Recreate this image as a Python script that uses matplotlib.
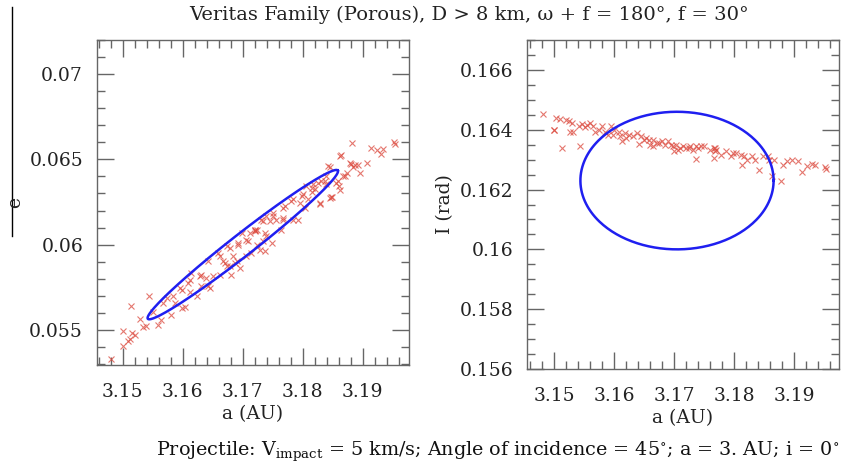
import numpy as np
import matplotlib
matplotlib.use('Agg')
import matplotlib.pyplot as plt
from matplotlib.ticker import MultipleLocator, FuncFormatter

# ------------------------------------------------------------
# data
# ------------------------------------------------------------
a_left = [3.1481, 3.1501, 3.1500, 3.1512, 3.1509, 3.1516, 3.1520, 3.1514, 3.1528, 3.1533,
          3.1539, 3.1543, 3.1551, 3.1559, 3.1564, 3.1567, 3.1573, 3.1581, 3.1584, 3.1587,
          3.1595, 3.1598, 3.1603, 3.1609, 3.1612, 3.1614, 3.1623, 3.1631, 3.1631, 3.1638,
          3.1642, 3.1645, 3.1651, 3.1659, 3.1662, 3.1667, 3.1670, 3.1673, 3.1678, 3.1681,
          3.1684, 3.1690, 3.1692, 3.1695, 3.1698, 3.1706, 3.1709, 3.1714, 3.1720, 3.1723,
          3.1728, 3.1734, 3.1737, 3.1739, 3.1748, 3.1723, 3.1737, 3.1731, 3.1739, 3.1745,
          3.1751, 3.1756, 3.1764, 3.1767, 3.1770, 3.1781, 3.1784, 3.1795, 3.1800, 3.1803,
          3.1806, 3.1809, 3.1815, 3.1817, 3.1820, 3.1829, 3.1831, 3.1837, 3.1839, 3.1845,
          3.1847, 3.1848, 3.1855, 3.1859, 3.1861, 3.1862, 3.1863, 3.1867, 3.1870, 3.1873,
          3.1878, 3.1881, 3.1882, 3.1884, 3.1887, 3.1892, 3.1896, 3.1907, 3.1913, 3.1923,
          3.1931, 3.1934, 3.1952, 3.1954, 3.1842, 3.1862, 3.1673, 3.1687, 3.1678, 3.1692,
          3.1706, 3.1712, 3.1720, 3.1662, 3.1642, 3.1612, 3.1598, 3.1628, 3.1767, 3.1784,
          3.1798, 3.1815, 3.1826, 3.1839, 3.1767, 3.1751, 3.1734, 3.1720, 3.1792, 3.1845,
          3.1828]
e_left = [0.05329, 0.05406, 0.05496, 0.05445, 0.05435, 0.05484, 0.05470, 0.05641, 0.05563, 0.05516,
          0.05520, 0.05700, 0.05602, 0.05529, 0.05559, 0.05660, 0.05686, 0.05588, 0.05696, 0.05660,
          0.05745, 0.05628, 0.05637, 0.05775, 0.05725, 0.05833, 0.05696, 0.05824, 0.05755, 0.05804,
          0.05902, 0.05745, 0.05814, 0.05951, 0.05824, 0.05902, 0.05892, 0.05990, 0.05872, 0.05824,
          0.05931, 0.05902, 0.06000, 0.05863, 0.06069, 0.05931, 0.06020, 0.05951, 0.06078, 0.06000,
          0.05970, 0.06020, 0.05960, 0.06049, 0.06010, 0.06088, 0.06069, 0.06147, 0.06167, 0.06140,
          0.06186, 0.06147, 0.06088, 0.06157, 0.06225, 0.06255, 0.06147, 0.06245, 0.06294, 0.06216,
          0.06343, 0.06265, 0.06310, 0.06353, 0.06324, 0.06241, 0.06373, 0.06373, 0.06353, 0.06455,
          0.06278, 0.06280, 0.06360, 0.06373, 0.06343, 0.06323, 0.06525, 0.06402, 0.06402, 0.06422,
          0.06480, 0.06475, 0.06594, 0.06455, 0.06465, 0.06467, 0.06422, 0.06480, 0.06569, 0.06553,
          0.06533, 0.06563, 0.06604, 0.06588, 0.06461, 0.06520, 0.05872, 0.05892, 0.05980, 0.06010,
          0.06030, 0.06069, 0.06088, 0.05931, 0.05755, 0.05794, 0.05735, 0.05814, 0.06216, 0.06265,
          0.06284, 0.06333, 0.06363, 0.06402, 0.06147, 0.06167, 0.06137, 0.06088, 0.06147, 0.06275,
          0.06245]

a_right = [3.1481, 3.1500, 3.1503, 3.1510, 3.1520, 3.1525, 3.1514, 3.1530, 3.1532, 3.1542,
           3.1543, 3.1547, 3.1552, 3.1560, 3.1565, 3.1568, 3.1580, 3.1585, 3.1590, 3.1595,
           3.1598, 3.1609, 3.1610, 3.1613, 3.1618, 3.1625, 3.1638, 3.1641, 3.1645, 3.1654,
           3.1659, 3.1665, 3.1665, 3.1671, 3.1680, 3.1685, 3.1690, 3.1698, 3.1707, 3.1703,
           3.1715, 3.1720, 3.1726, 3.1732, 3.1737, 3.1737, 3.1745, 3.1750, 3.1766, 3.1768,
           3.1766, 3.1778, 3.1787, 3.1795, 3.1798, 3.1803, 3.1811, 3.1817, 3.1813, 3.1822,
           3.1830, 3.1835, 3.1842, 3.1848, 3.1856, 3.1858, 3.1864, 3.1867, 3.1879, 3.1882,
           3.1888, 3.1896, 3.1907, 3.1913, 3.1922, 3.1930, 3.1935, 3.1952, 3.1953, 3.1632,
           3.1650, 3.1675, 3.1695, 3.1710, 3.1725, 3.1740, 3.1760, 3.1768, 3.1770, 3.1600,
           3.1575, 3.1555, 3.1620, 3.1660, 3.1700, 3.1527, 3.1500]
I_right = [0.16452, 0.16400, 0.16439, 0.16436, 0.16433, 0.16430, 0.16338, 0.16422, 0.16394, 0.16413,
           0.16344, 0.16420, 0.16408, 0.16422, 0.16411, 0.16394, 0.16411, 0.16394, 0.16383, 0.16411,
           0.16383, 0.16394, 0.16378, 0.16361, 0.16389, 0.16383, 0.16389, 0.16353, 0.16378, 0.16372,
           0.16367, 0.16367, 0.16344, 0.16356, 0.16361, 0.16350, 0.16361, 0.16344, 0.16333, 0.16350,
           0.16344, 0.16339, 0.16344, 0.16333, 0.16344, 0.16302, 0.16344, 0.16344, 0.16339, 0.16328,
           0.16306, 0.16317, 0.16328, 0.16311, 0.16322, 0.16322, 0.16317, 0.16311, 0.16283, 0.16300,
           0.16311, 0.16300, 0.16264, 0.16311, 0.16311, 0.16300, 0.16244, 0.16300, 0.16228, 0.16283,
           0.16295, 0.16300, 0.16295, 0.16259, 0.16278, 0.16287, 0.16283, 0.16276, 0.16270, 0.16378,
           0.16367, 0.16356, 0.16350, 0.16339, 0.16339, 0.16339, 0.16333, 0.16339, 0.16333, 0.16400,
           0.16400, 0.16417, 0.16372, 0.16350, 0.16328, 0.16392, 0.16400]

# ellipses: centre, half major vector, half minor vector (data units)
ell_left = dict(c=(3.1700, 0.06000), u=(0.01583, 0.00435), v=(0.00113, -0.00051))
ell_right = dict(c=(3.1705, 0.16230), u=(0.01610, 0.0), v=(0.0, 0.00230))

title = 'Veritas Family (Porous), D > 8 km, \u03c9 + f = 180\u00b0, f = 30\u00b0'
footer = r'Projectile: V$_{\rm impact}$ = 5 km/s; Angle of incidence = 45$^{\circ}$; a = 3. AU; i = 0$^{\circ}$'

# ------------------------------------------------------------
plt.rcParams['font.family'] = 'DejaVu Serif'
plt.rcParams['mathtext.fontset'] = 'dejavuserif'

fig = plt.figure(figsize=(8.45, 4.71), dpi=100)
W, H = 845, 471
axL = fig.add_axes([97 / W, (H - 365) / H, 312 / W, 325 / H])
axR = fig.add_axes([527 / W, (H - 369) / H, 312 / W, 329 / H])

red = '#dc4a3e'
blue = '#1f1ff0'
gray = '#666666'
ink = '#222222'

def ellipse_xy(p):
    t = np.linspace(0, 2 * np.pi, 300)
    x = p['c'][0] + p['u'][0] * np.cos(t) + p['v'][0] * np.sin(t)
    y = p['c'][1] + p['u'][1] * np.cos(t) + p['v'][1] * np.sin(t)
    return x, y

fmt = FuncFormatter(lambda v, pos: '%g' % round(v, 6))

for ax, xs, ys, ell in [(axL, a_left, e_left, ell_left), (axR, a_right, I_right, ell_right)]:
    ax.plot(xs, ys, 'x', color=red, ms=5, mew=0.8, alpha=0.75, zorder=2)
    ex, ey = ellipse_xy(ell)
    ax.plot(ex, ey, color=blue, lw=1.8, zorder=3)
    ax.xaxis.set_major_locator(MultipleLocator(0.01))
    ax.xaxis.set_minor_locator(MultipleLocator(0.002))
    ax.xaxis.set_major_formatter(fmt)
    ax.yaxis.set_major_formatter(fmt)
    ax.tick_params(which='both', direction='in', top=True, right=True, colors=gray,
                   labelcolor=ink, labelsize=13.5, width=1)
    ax.tick_params(which='major', length=12)
    ax.tick_params(which='minor', length=6)
    ax.tick_params(axis='x', pad=13)
    ax.tick_params(axis='y', pad=10)
    for s in ax.spines.values():
        s.set_color(gray)
        s.set_linewidth(1)
    ax.set_xlabel('a (AU)', fontsize=13.5, color=ink, labelpad=3)

axL.set_xlim(3.1457, 3.1977)
axL.set_ylim(0.05294, 0.0720)
axL.yaxis.set_major_locator(MultipleLocator(0.005))
axL.yaxis.set_minor_locator(MultipleLocator(0.001))

axR.set_xlim(3.1455, 3.1975)
axR.set_ylim(0.156, 0.167)
axR.yaxis.set_major_locator(MultipleLocator(0.002))
axR.yaxis.set_minor_locator(MultipleLocator(0.0005))
axR.set_ylabel('I (rad)', fontsize=13.5, color=ink, labelpad=4)

# left y label sits far out, with a stray vertical rule
fig.text(15 / W, 1 - 203 / H, 'e', rotation=90, fontsize=13.5, color=ink,
         ha='center', va='center')
fig.add_artist(plt.Line2D([12 / W, 12 / W], [1 - 7 / H, 1 - 236 / H], color='black', lw=1))

fig.text(469 / W, 1 - 15 / H, title, fontsize=14, color=ink, ha='center', va='center')
fig.text(498 / W, 1 - 452 / H, footer, fontsize=13.8, color='#111111', ha='center', va='center')

fig.savefig('out.png', dpi=100)
